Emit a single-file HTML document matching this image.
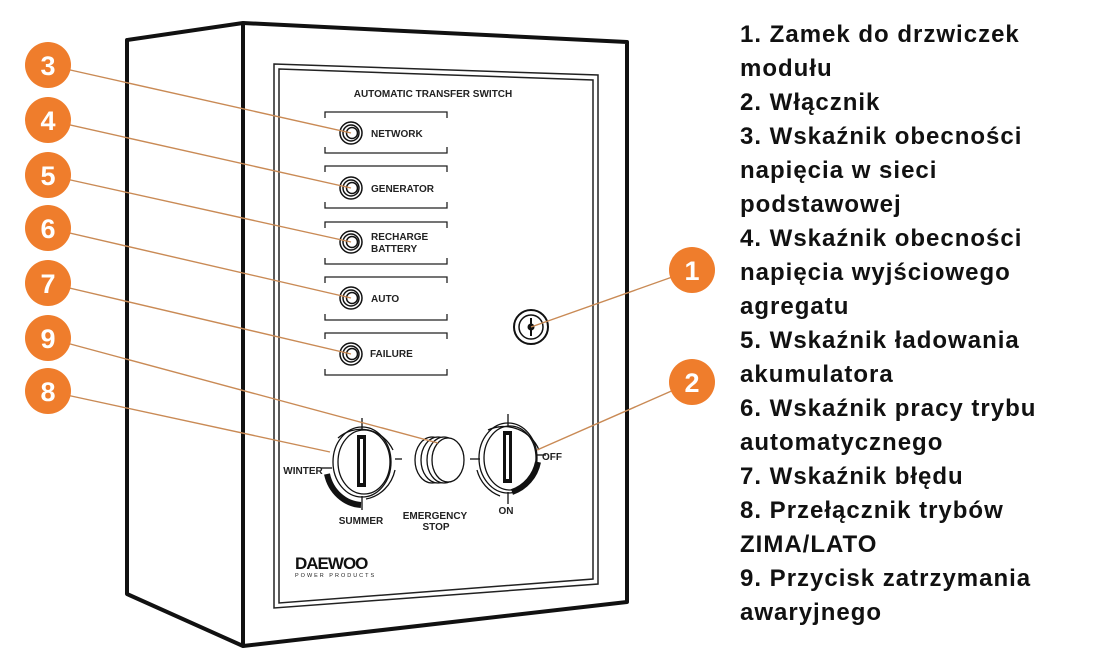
<!DOCTYPE html>
<html><head><meta charset="utf-8"><style>
html,body{margin:0;padding:0;background:#fff;}
svg{display:block}
.lbl{font-family:"Liberation Sans",sans-serif;font-weight:bold;font-size:10px;fill:#222}
.t{font-family:"Liberation Sans",sans-serif;font-weight:bold;font-size:24px;fill:#111;letter-spacing:1px}
.b{font-family:"Liberation Sans",sans-serif;font-weight:bold;font-size:27px;fill:#fff;text-anchor:middle}
</style></head><body>
<svg width="1110" height="654" viewBox="0 0 1110 654" xmlns="http://www.w3.org/2000/svg">
<g fill="none" stroke="#111" stroke-width="4" stroke-linejoin="round">
<polygon points="127,40 243,23 627,42 627,602 243,646 127,594"/>
<line x1="243" y1="23" x2="243" y2="646"/>
</g>
<g fill="none" stroke="#222" stroke-width="1.5">
<polygon points="274,64 598,75 598,584 274,608"/>
<polygon points="279,69 593,80 593,579 279,603"/>
</g>
<text x="433" y="97" class="lbl" text-anchor="middle" font-size="10">AUTOMATIC TRANSFER SWITCH</text>
<g fill="none" stroke="#222" stroke-width="1.3">
<path d="M325,118 V112 H447 V118 M325,147 V153 H447 V147"/>
<path d="M325,172 V166 H447 V172 M325,202 V208 H447 V202"/>
<path d="M325,228 V222 H447 V228 M325,258 V264 H447 V258"/>
<path d="M325,283 V277 H447 V283 M325,314 V320 H447 V314"/>
<path d="M325,339 V333 H447 V339 M325,369 V375 H447 V369"/>
</g>
<g fill="#fff" stroke="#111" stroke-width="1.5">
<circle cx="351" cy="133" r="11"/><circle cx="351" cy="133" r="8"/><circle cx="352" cy="133" r="5.5"/>
<circle cx="351" cy="188" r="11"/><circle cx="351" cy="188" r="8"/><circle cx="352" cy="188" r="5.5"/>
<circle cx="351" cy="242" r="11"/><circle cx="351" cy="242" r="8"/><circle cx="352" cy="242" r="5.5"/>
<circle cx="351" cy="298" r="11"/><circle cx="351" cy="298" r="8"/><circle cx="352" cy="298" r="5.5"/>
<circle cx="351" cy="354" r="11"/><circle cx="351" cy="354" r="8"/><circle cx="352" cy="354" r="5.5"/>
</g>
<text x="371" y="137" class="lbl" font-size="9.5">NETWORK</text>
<text x="371" y="192" class="lbl" font-size="9.5">GENERATOR</text>
<text x="371" y="240" class="lbl" font-size="9.5">RECHARGE</text>
<text x="371" y="252" class="lbl" font-size="9.5">BATTERY</text>
<text x="371" y="302" class="lbl" font-size="9.5">AUTO</text>
<text x="370" y="357" class="lbl" font-size="9.5">FAILURE</text>
<circle cx="531" cy="327" r="17" fill="#fff" stroke="#111" stroke-width="2"/>
<circle cx="531" cy="327" r="12" fill="none" stroke="#111" stroke-width="1.5"/>
<circle cx="531" cy="327" r="3.5" fill="#111"/><rect x="530" y="318" width="2" height="18" fill="#111"/>
<g fill="none" stroke="#111" stroke-width="1.3">
<path d="M338,438 A36,38 0 0 1 393,450"/>
<path d="M395,470 A36,38 0 0 1 366,499"/>
<line x1="362" y1="418" x2="362" y2="430"/><line x1="395" y1="459" x2="402" y2="459"/><line x1="362" y1="496" x2="362" y2="510"/>
<line x1="321" y1="468" x2="332" y2="468"/>
<ellipse cx="362" cy="462" rx="29" ry="35"/><ellipse cx="364" cy="462" rx="26" ry="32"/>
</g>
<path d="M327,474 A37,40 0 0 0 361,505" fill="none" stroke="#111" stroke-width="6"/>
<rect x="357" y="435" width="9" height="52" fill="#111"/><rect x="360" y="439" width="3" height="44" fill="#fff"/>
<g fill="#fff" stroke="#111" stroke-width="1.3">
<ellipse cx="432" cy="460" rx="17" ry="23"/><ellipse cx="438" cy="460" rx="17" ry="23"/><ellipse cx="444" cy="460" rx="17" ry="23"/><ellipse cx="448" cy="460" rx="16" ry="22"/>
</g>
<g fill="none" stroke="#111" stroke-width="1.3">
<path d="M488,430 A38,38 0 0 1 539,450"/>
<path d="M477,470 A38,38 0 0 0 500,496"/>
<line x1="508" y1="414" x2="508" y2="426"/><line x1="470" y1="459" x2="480" y2="459"/><line x1="508" y1="492" x2="508" y2="504"/>
<line x1="536" y1="455" x2="546" y2="455"/>
<ellipse cx="508" cy="458" rx="29" ry="35"/><ellipse cx="510" cy="458" rx="26" ry="32"/>
</g>
<path d="M538,462 A39,40 0 0 1 512,492" fill="none" stroke="#111" stroke-width="6"/>
<rect x="503" y="431" width="9" height="52" fill="#111"/><rect x="506" y="435" width="3" height="44" fill="#fff"/>
<text x="303" y="474" class="lbl" font-size="9" text-anchor="middle">WINTER</text>
<text x="361" y="524" class="lbl" font-size="9" text-anchor="middle">SUMMER</text>
<text x="435" y="519" class="lbl" font-size="9" text-anchor="middle">EMERGENCY</text>
<text x="436" y="530" class="lbl" font-size="9" text-anchor="middle">STOP</text>
<text x="506" y="514" class="lbl" font-size="9" text-anchor="middle">ON</text>
<text x="552" y="460" class="lbl" font-size="9" text-anchor="middle">OFF</text>
<text x="295" y="569" font-family="Liberation Sans,sans-serif" font-weight="bold" font-size="17" fill="#111" letter-spacing="-1">DAEWOO</text>
<text x="295" y="577" font-family="Liberation Sans,sans-serif" font-size="5.5" fill="#222" letter-spacing="2">POWER PRODUCTS</text>
<g stroke="#c98a55" stroke-width="1.4" fill="none">
<line x1="48" y1="65" x2="351" y2="133"/>
<line x1="48" y1="120" x2="351" y2="188"/>
<line x1="48" y1="175" x2="351" y2="242"/>
<line x1="48" y1="228" x2="351" y2="298"/>
<line x1="48" y1="283" x2="351" y2="354"/>
<line x1="48" y1="338" x2="438" y2="443"/>
<line x1="48" y1="391" x2="330" y2="452"/>
<line x1="692" y1="270" x2="531" y2="327"/>
<line x1="692" y1="382" x2="537" y2="450"/>
</g>
<g fill="#ef7d2c">
<circle cx="48" cy="65" r="23"/><circle cx="48" cy="120" r="23"/><circle cx="48" cy="175" r="23"/><circle cx="48" cy="228" r="23"/>
<circle cx="48" cy="283" r="23"/><circle cx="48" cy="338" r="23"/><circle cx="48" cy="391" r="23"/>
<circle cx="692" cy="270" r="23"/><circle cx="692" cy="382" r="23"/>
</g>
<text x="48" y="75" class="b">3</text><text x="48" y="130" class="b">4</text><text x="48" y="185" class="b">5</text>
<text x="48" y="238" class="b">6</text><text x="48" y="293" class="b">7</text><text x="48" y="348" class="b">9</text>
<text x="48" y="401" class="b">8</text><text x="692" y="280" class="b">1</text><text x="692" y="392" class="b">2</text>
<text x="740" y="42" class="t">1. Zamek do drzwiczek</text>
<text x="740" y="76" class="t">modułu</text>
<text x="740" y="110" class="t">2. Włącznik</text>
<text x="740" y="144" class="t">3. Wskaźnik obecności</text>
<text x="740" y="178" class="t">napięcia w sieci</text>
<text x="740" y="212" class="t">podstawowej</text>
<text x="740" y="246" class="t">4. Wskaźnik obecności</text>
<text x="740" y="280" class="t">napięcia wyjściowego</text>
<text x="740" y="314" class="t">agregatu</text>
<text x="740" y="348" class="t">5. Wskaźnik ładowania</text>
<text x="740" y="382" class="t">akumulatora</text>
<text x="740" y="416" class="t">6. Wskaźnik pracy trybu</text>
<text x="740" y="450" class="t">automatycznego</text>
<text x="740" y="484" class="t">7. Wskaźnik błędu</text>
<text x="740" y="518" class="t">8. Przełącznik trybów</text>
<text x="740" y="552" class="t">ZIMA/LATO</text>
<text x="740" y="586" class="t">9. Przycisk zatrzymania</text>
<text x="740" y="620" class="t">awaryjnego</text>
</svg>
</body></html>
